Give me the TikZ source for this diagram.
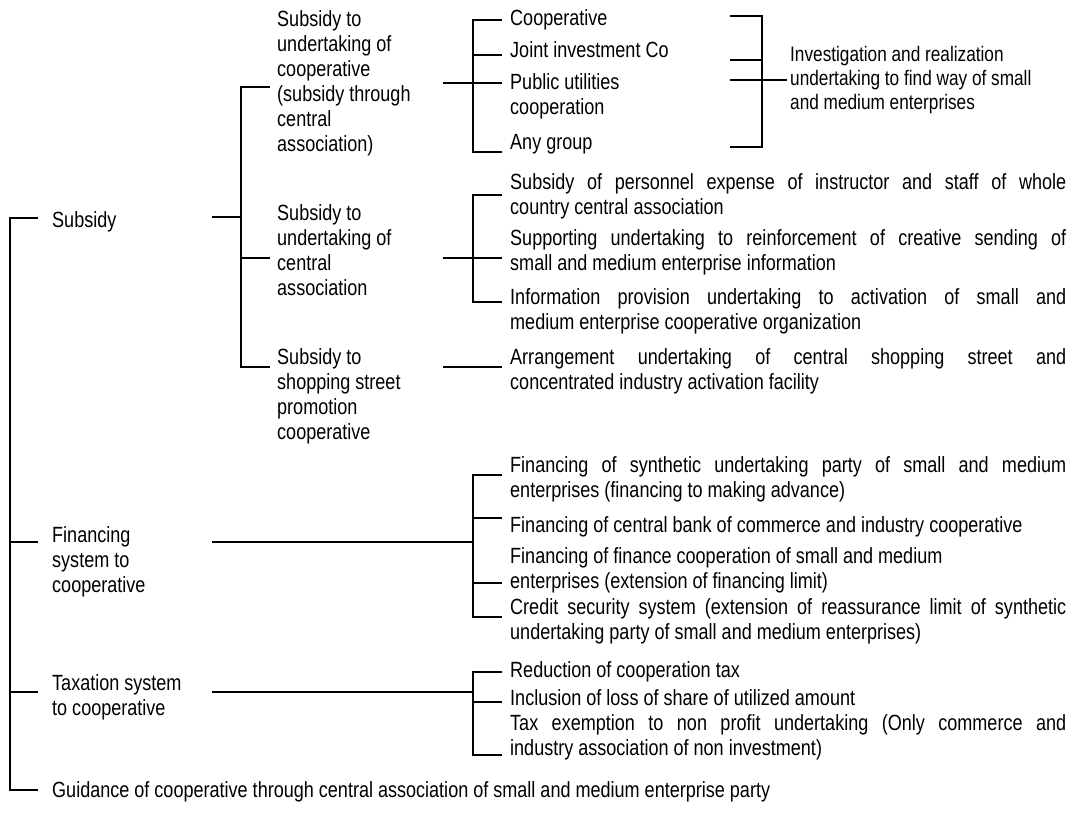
\documentclass[tikz,border=0pt]{standalone}
\usepackage{fontspec}
\setmainfont{Liberation Sans}[FakeStretch=0.82]
\begin{document}
\newcommand\jline[1]{\makebox[556pt][s]{#1}}
\begin{tikzpicture}[x=1pt,y=-1pt,
  lbl/.style={anchor=north west,inner sep=0pt,align=left,
    font=\fontsize{22}{25}\selectfont},
  small/.style={font=\fontsize{21}{24}\selectfont},
  wire/.style={line width=1.6pt}]
\useasboundingbox (0,0) rectangle (1074,813);

% ---------- first level
\node[lbl] (sub)  at (52,210) {\strut Subsidy};
\node[lbl] (fin)  at (52,525) {\strut Financing\\system to\\cooperative};
\node[lbl] (tax)  at (52,673) {\strut Taxation system\\to cooperative};
\node[lbl] (gui)  at (52,780) {\strut Guidance of cooperative through central association of small and medium enterprise party};

% ---------- second level
\node[lbl] (sa) at (277,9)   {\strut Subsidy to\\undertaking of\\cooperative\\(subsidy through\\central\\association)};
\node[lbl] (sb) at (277,203) {\strut Subsidy to\\undertaking of\\central\\association};
\node[lbl] (sc) at (277,347) {\strut Subsidy to\\shopping street\\promotion\\cooperative};

% ---------- third level, cooperative subsidy
\node[lbl] (coop) at (510,8)  {\strut Cooperative};
\node[lbl] (jic)  at (510,40) {\strut Joint investment Co};
\node[lbl] (puc)  at (510,72) {\strut Public utilities\\cooperation};
\node[lbl] (anyg) at (510,132) {\strut Any group};
\node[lbl,small] (inv)  at (790,45) {\strut Investigation and realization\\undertaking to find way of small\\and medium enterprises};

% ---------- third level, central association
\node[lbl] (ca1) at (510,172) {\strut\jline{Subsidy of personnel expense of instructor and staff of whole}\\country central association};
\node[lbl] (ca2) at (510,228) {\strut\jline{Supporting undertaking to reinforcement of creative sending of}\\small and medium enterprise information};
\node[lbl] (ca3) at (510,287) {\strut\jline{Information provision undertaking to activation of small and}\\medium enterprise cooperative organization};

% ---------- third level, shopping street
\node[lbl] (shp) at (510,347) {\strut\jline{Arrangement undertaking of central shopping street and}\\concentrated industry activation facility};

% ---------- third level, financing
\node[lbl] (fa) at (510,455) {\strut\jline{Financing of synthetic undertaking party of small and medium}\\enterprises (financing to making advance)};
\node[lbl] (fb) at (510,515) {\strut Financing of central bank of commerce and industry cooperative};
\node[lbl] (fc) at (510,546) {\strut Financing of finance cooperation of small and medium\\enterprises (extension of financing limit)};
\node[lbl] (fd) at (510,597) {\strut\jline{Credit security system (extension of reassurance limit of synthetic}\\undertaking party of small and medium enterprises)};

% ---------- third level, taxation
\node[lbl] (ta) at (510,660) {\strut Reduction of cooperation tax};
\node[lbl] (tb) at (510,688) {\strut Inclusion of loss of share of utilized amount};
\node[lbl] (tc) at (510,713) {\strut\jline{Tax exemption to non profit undertaking (Only commerce and}\\industry association of non investment)};

% ---------- connectors
% main spine
\draw[wire] (38,218) -- (10,218) -- (10,790) -- (38,790);
\draw[wire] (10,542) -- (38,542);
\draw[wire] (10,692) -- (38,692);
% subsidy branch
\draw[wire] (212,217) -- (241,217);
\draw[wire] (270,87) -- (241,87) -- (241,367) -- (270,367);
\draw[wire] (241,258) -- (270,258);
% cooperative subsidy bracket
\draw[wire] (443,83) -- (502,83);
\draw[wire] (502,20) -- (473,20) -- (473,152) -- (502,152);
\draw[wire] (473,55) -- (502,55);
\draw[wire] (730,16) -- (762,16) -- (762,147) -- (730,147);
\draw[wire] (730,60) -- (762,60);
\draw[wire] (730,80) -- (787,80);
% central association bracket
\draw[wire] (443,258) -- (502,258);
\draw[wire] (502,195) -- (473,195) -- (473,302) -- (502,302);
% shopping street
\draw[wire] (443,367) -- (502,367);
% financing bracket
\draw[wire] (212,542) -- (473,542);
\draw[wire] (502,475) -- (473,475) -- (473,617) -- (502,617);
\draw[wire] (473,518) -- (502,518);
\draw[wire] (473,583) -- (502,583);
% taxation bracket
\draw[wire] (212,692) -- (473,692);
\draw[wire] (502,672) -- (473,672) -- (473,755) -- (502,755);
\draw[wire] (473,702) -- (502,702);
\end{tikzpicture}
\end{document}
